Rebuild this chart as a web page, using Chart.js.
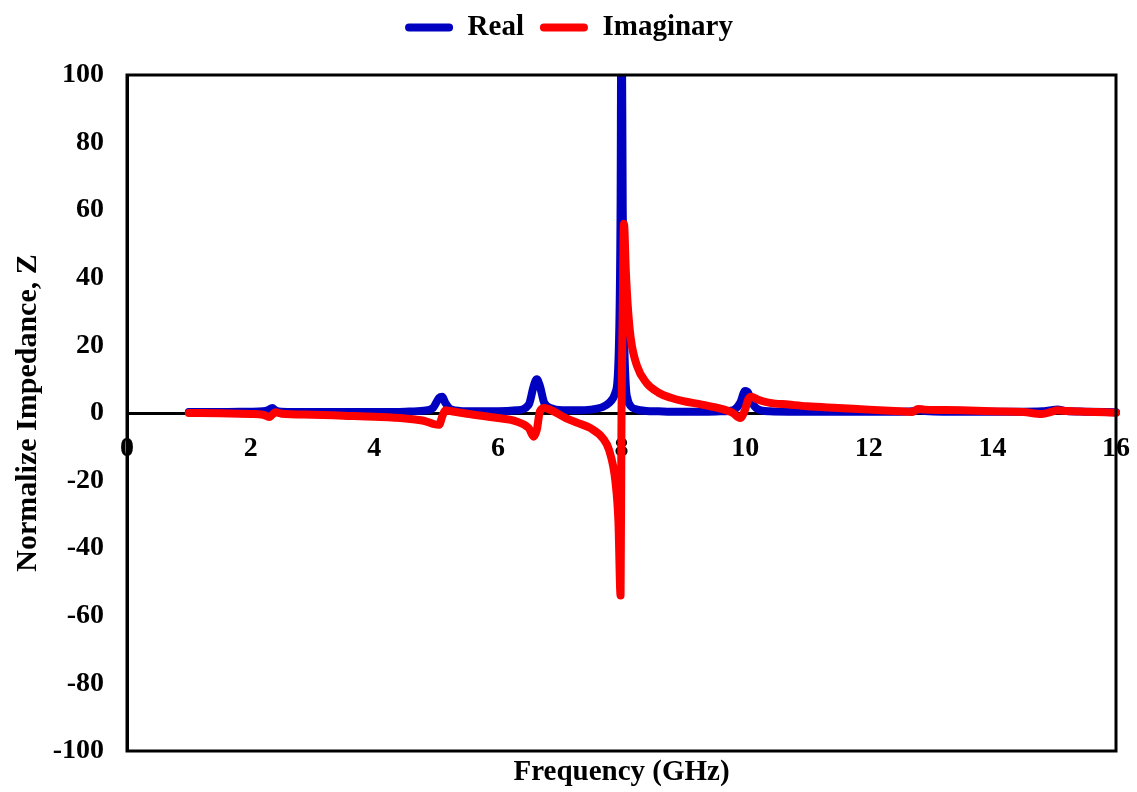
<!DOCTYPE html>
<html>
<head>
<meta charset="utf-8">
<script src="https://cdn.jsdelivr.net/npm/chart.js@4.4.1/dist/chart.umd.min.js"></script>
<style>
  html, body { margin: 0; padding: 0; background: #ffffff; }
  #wrap { width: 1137px; height: 792px; }
</style>
</head>
<body>
<div id="wrap"><canvas id="impedanceChart"></canvas></div>
<script>
// frequency points (GHz)
const freq = [
  1, 1.5, 2, 2.2, 2.3, 2.35, 2.4, 2.5, 3, 3.5, 4, 4.5, 4.8, 4.95, 5.05, 5.1, 5.15, 5.25, 5.5,
  6, 6.3, 6.5, 6.58, 6.63, 6.68, 6.75, 6.9, 7.1, 7.3, 7.5, 7.7, 7.8, 7.9, 7.95, 7.985, 8.0,
  8.02, 8.04, 8.07, 8.1, 8.15, 8.25, 8.4, 8.6, 8.8, 9, 9.3, 9.6, 9.8, 9.92, 10.0, 10.05, 10.1,
  10.2, 10.4, 10.7, 11, 11.5, 12, 12.5, 12.7, 12.8, 12.9, 13.2, 13.5, 14, 14.5, 14.8, 14.95,
  15.05, 15.2, 15.5, 16
];

// real part of normalized impedance
const realZ = [
  0.3, 0.3, 0.4, 0.5, 1.0, 1.5, 0.8, 0.4, 0.3, 0.3, 0.3, 0.4, 0.7, 1.5, 4.5, 4.8, 3.0, 1.0, 0.5,
  0.5, 0.8, 2.5, 8.0, 10.0, 8.0, 3.0, 1.2, 0.8, 0.8, 1.0, 1.8, 3.0, 6.0, 15, 60, 130,
  60, 25, 8, 4, 2, 1, 0.6, 0.5, 0.4, 0.4, 0.4, 0.5, 0.8, 3.0, 6.5, 6.0, 3.5,
  1.2, 0.5, 0.4, 0.4, 0.4, 0.4, 0.4, 0.5, 0.8, 0.6, 0.4, 0.4, 0.4, 0.4, 0.5, 0.8,
  1.0, 0.6, 0.4, 0.2
];

// imaginary part of normalized impedance
const imagZ = [
  0, -0.1, -0.3, -0.5, -1.2, -0.5, 0.2, -0.2, -0.5, -0.8, -1.1, -1.6, -2.3, -3.2, -3.5, -1.0, 0.8, 0.5, -0.2,
  -1.5, -2.5, -4.5, -7.0, -5.0, 0.5, 1.5, 0.5, -1.5, -3.0, -4.5, -7.5, -11, -20, -32, -54, 0,
  30, 56, 42, 32, 22, 14, 9, 6, 4.5, 3.5, 2.5, 1.3, 0, -1.5, 1.0, 4.0, 4.8,
  4.0, 3.0, 2.5, 2.0, 1.5, 1.0, 0.5, 0.3, 1.2, 1.0, 0.9, 0.8, 0.5, 0.3, -0.3, 0.3,
  0.8, 0.6, 0.4, 0.1
];

const seriesNames = ["Real", "Imaginary"];
const seriesColors = ["#0000c0", "#ff0000"];

const xTicks = { min: 0, max: 16, step: 2 };
const yTicks = { min: -100, max: 100, step: 20 };

const fontFamily = "'Liberation Serif', 'Times New Roman', serif";

/**
 * pair frequency list with a value list
 * @param {Array} values y values
 * @return {Array} list of {x, y} points
 */
function toPoints(values) {
  return freq.map((f, i) => ({ x: f, y: values[i] }));
}

function makeDataset(label, values, color, order) {
  return {
    label: label,
    data: toPoints(values),
    borderColor: color,
    backgroundColor: color,
    borderWidth: 8,
    borderCapStyle: "round",
    borderJoinStyle: "round",
    pointRadius: 0,
    cubicInterpolationMode: "monotone",
    clip: { top: 0, left: 8, right: 8, bottom: 8 },
    order: order
  };
}

function boldFont(size) {
  return { family: fontFamily, size: size, weight: "bold" };
}

// draw the box around the plot and the x axis title
const framePlugin = {
  id: "frame",
  beforeInit(chart) {
    // extra room under the legend
    const fit = chart.legend.fit;
    chart.legend.fit = function () {
      fit.bind(chart.legend)();
      this.height += 20;
    };
  },
  afterLayout(chart) {
    // nudge the legend a little higher and to the right
    chart.legend.top -= 3;
    chart.legend.bottom -= 3;
    chart.legend.left += 11;
    chart.legend.right += 11;
  },
  afterDraw(chart) {
    const ctx = chart.ctx;
    const a = chart.chartArea;
    ctx.save();
    ctx.strokeStyle = "#000000";
    ctx.lineWidth = 3;
    ctx.strokeRect(a.left, a.top, a.right - a.left, a.bottom - a.top);
    ctx.fillStyle = "#000000";
    ctx.font = "bold 29px " + fontFamily;
    ctx.textAlign = "center";
    ctx.textBaseline = "middle";
    ctx.fillText("Frequency (GHz)", (a.left + a.right) / 2, 773);
    ctx.restore();
  }
};

const ctx = document.getElementById("impedanceChart").getContext("2d");
new Chart(ctx, {
  type: "line",
  data: {
    datasets: [
      makeDataset(seriesNames[0], realZ, seriesColors[0], 2),
      makeDataset(seriesNames[1], imagZ, seriesColors[1], 1)
    ]
  },
  options: {
    responsive: true,
    maintainAspectRatio: false,
    animation: false,
    layout: { padding: { top: 0, right: 21, bottom: 41, left: 0 } },
    plugins: {
      legend: {
        position: "top",
        labels: {
          color: "#000000",
          font: boldFont(29),
          boxWidth: 48,
          boxHeight: 8,
          useBorderRadius: true,
          borderRadius: 4,
          padding: 16,
          generateLabels(chart) {
            const items = Chart.defaults.plugins.legend.labels.generateLabels(chart);
            items.forEach((item) => { item.lineWidth = 0; });
            return items.sort((a, b) => a.datasetIndex - b.datasetIndex);
          }
        }
      },
      tooltip: { enabled: false }
    },
    scales: {
      x: {
        type: "linear",
        position: { y: 0 },
        min: xTicks.min,
        max: xTicks.max,
        grid: { display: false, drawTicks: false },
        border: { display: true, color: "#000000", width: 3 },
        ticks: {
          stepSize: xTicks.step,
          padding: 19,
          color: "#000000",
          font: boldFont(28)
        },
        afterFit(scale) {
          // the end labels may hang over the frame
          scale.paddingLeft = 0;
          scale.paddingRight = 0;
        }
      },
      y: {
        type: "linear",
        min: yTicks.min,
        max: yTicks.max,
        grid: { display: false, drawTicks: false },
        border: { display: true, color: "#000000", width: 3 },
        ticks: {
          stepSize: yTicks.step,
          padding: 23,
          color: "#000000",
          font: boldFont(28)
        },
        title: {
          display: true,
          text: "Normalize Impedance, Z",
          color: "#000000",
          padding: { top: 10, bottom: 0 },
          font: boldFont(30)
        },
        afterFit(scale) {
          scale.width = 127;
        }
      }
    }
  },
  plugins: [framePlugin]
});
</script>
</body>
</html>
